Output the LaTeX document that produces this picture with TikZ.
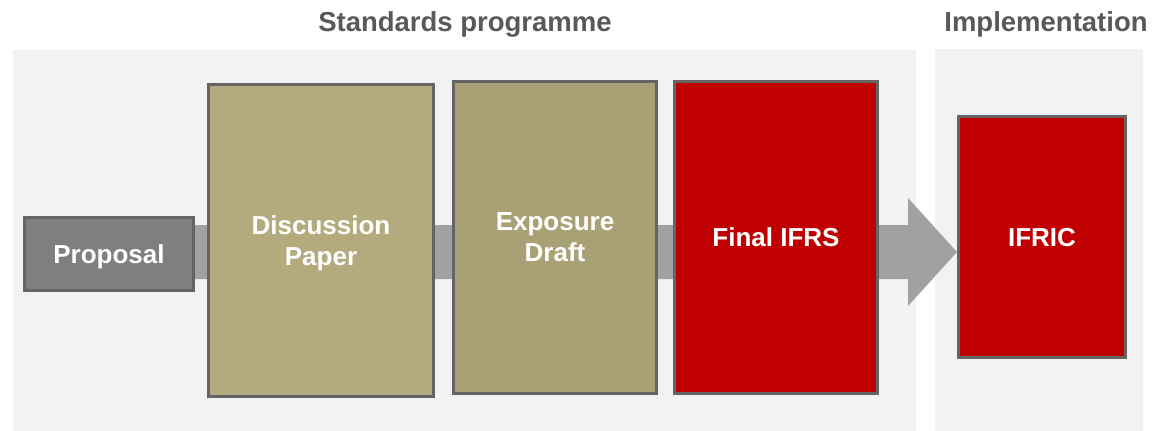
\documentclass[tikz,border=0pt]{standalone}
\usepackage{fontspec}
\setmainfont{Liberation Sans}
\definecolor{panelgray}{HTML}{F2F2F2}
\definecolor{titlegray}{HTML}{595959}
\definecolor{bordergray}{HTML}{646464}
\definecolor{arrowgray}{HTML}{A0A1A3}
\definecolor{propgray}{HTML}{7F7F7F}
\definecolor{khaki}{HTML}{B3AB7D}
\definecolor{khakidark}{HTML}{A9A175}
\definecolor{ifrsred}{HTML}{C00000}
\begin{document}
\begin{tikzpicture}[x=1pt,y=-1pt,
  panel/.style={fill=panelgray, draw=none},
  titletext/.style={text=titlegray, font=\bfseries\fontsize{27.5}{33}\selectfont, inner sep=0pt, text depth=0pt},
  stagebox/.style={draw=bordergray, line width=3pt, text=white, align=center,
    font=\bfseries\fontsize{26}{31}\selectfont, inner sep=0pt, text depth=0pt},
  blockarrow/.style={fill=arrowgray, draw=none}
]
\useasboundingbox (0,0) rectangle (1154,431);
\fill[white] (0,0) rectangle (1154,431);
% panels
\fill[panel] (13,50) rectangle (916,431);
\fill[panel] (935,49) rectangle (1143,431);
% titles
\node[titletext] (t1) at (465,22) {Standards programme};
\node[titletext] (t2) at (1046,22) {Implementation};
% block arrow
\fill[blockarrow] (190,225) -- (908,225) -- (908,198) -- (957,252) -- (908,306) -- (908,279) -- (190,279) -- cycle;
% boxes
\node[stagebox, fill=propgray, minimum width=169pt, minimum height=73pt] (prop) at (109,254) {Proposal};
\node[stagebox, fill=khaki, minimum width=225pt, minimum height=312pt] (dp) at (321,240.5) {Discussion\\Paper};
\node[stagebox, fill=khakidark, minimum width=203pt, minimum height=312pt] (ed) at (555,237.5) {Exposure\\Draft};
\node[stagebox, fill=ifrsred, minimum width=203pt, minimum height=312pt] (fi) at (776,237.5) {Final IFRS};
\node[stagebox, fill=ifrsred, minimum width=167pt, minimum height=241pt] (ifric) at (1042,237) {IFRIC};
\end{tikzpicture}
\end{document}
